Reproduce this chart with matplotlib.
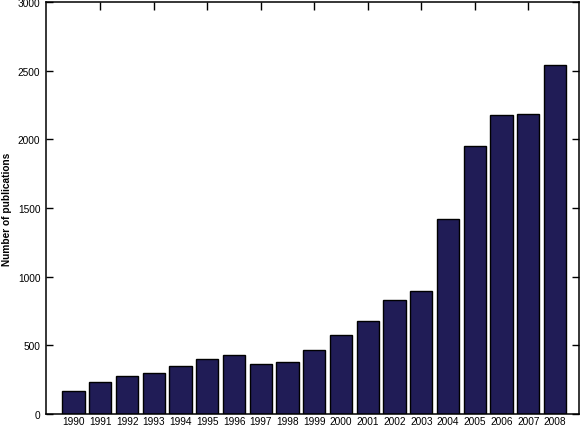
import matplotlib
matplotlib.use("Agg")
import matplotlib.pyplot as plt

years = [str(y) for y in range(1990, 2009)]
publications = [167, 230, 280, 297, 348, 399, 428, 362, 382, 464,
                572, 677, 830, 895, 1420, 1953, 2180, 2187, 2540]

plt.rcParams['font.family'] = ['Liberation Sans', 'DejaVu Sans']

fig = plt.figure(figsize=(5.82, 4.27), dpi=100)
ax = fig.add_axes([0.079, 0.028, 0.916, 0.965])

x = list(range(len(years)))
ax.bar(x, publications, width=0.83, color='#201c56', edgecolor='black', linewidth=1.0)

ax.set_xlim(-1.03, 18.9)
ax.set_ylim(0, 3000)
ax.set_yticks([0, 500, 1000, 1500, 2000, 2500, 3000])
ax.set_xticks(x)
ax.set_xticklabels(years, fontsize=7.3)
ax.tick_params(axis='x', length=0, pad=1.5)
ax.tick_params(axis='y', direction='in', length=5, width=1, labelsize=7.3, right=True, pad=4)

ax2 = ax.secondary_xaxis('top')
ax2.set_xticks(x[1::2])
ax2.tick_params(direction='in', length=6, width=1, labeltop=False)
ax2.spines['top'].set_visible(False)

for s in ax.spines.values():
    s.set_linewidth(1.1)

ax.set_ylabel('Number of publications', fontsize=7.3, fontweight='bold', labelpad=4)

fig.savefig('out.png', dpi=100)
